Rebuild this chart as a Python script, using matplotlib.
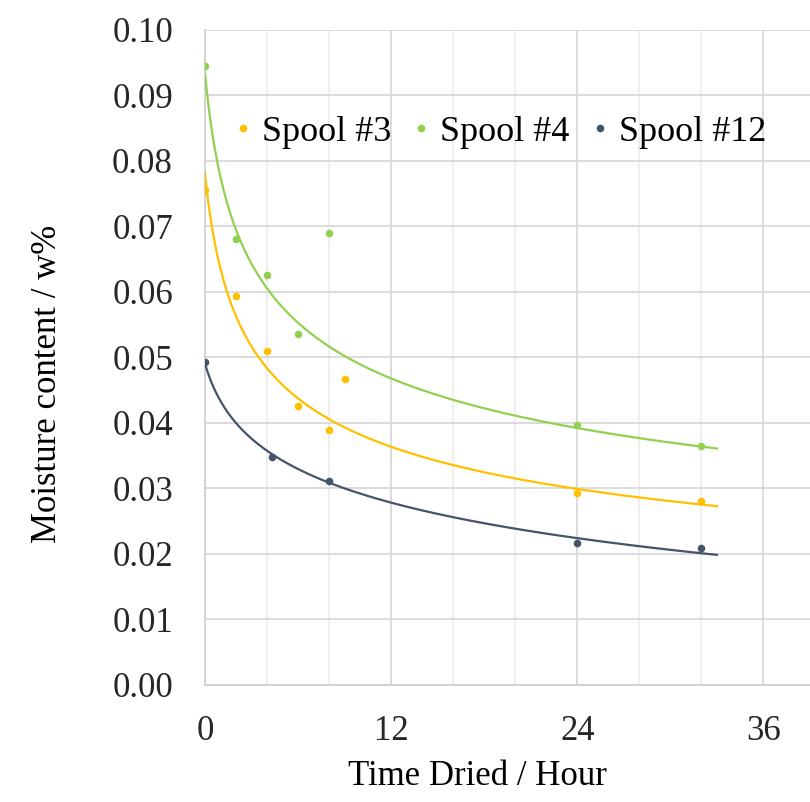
import numpy as np
import matplotlib.pyplot as plt
from matplotlib.lines import Line2D

plt.rcParams['font.family'] = ['Liberation Serif', 'DejaVu Serif']

# data (hours, moisture content)
hours_3 = [0, 2, 4, 6, 8, 9, 24, 32]
spool_3 = [0.0755, 0.0593, 0.0509, 0.0425, 0.0389, 0.0467, 0.0293, 0.0281]

hours_4 = [0, 2, 4, 6, 8, 24, 32]
spool_4 = [0.0945, 0.0680, 0.0625, 0.0535, 0.0690, 0.0396, 0.0364]

hours_12 = [0, 4.3, 8, 24, 32]
spool_12 = [0.0493, 0.0348, 0.0311, 0.0216, 0.0209]

names = ['Spool #3', 'Spool #4', 'Spool #12']
colors = ['#FFC000', '#92D050', '#44546A']

# trendline kind and hours left out of each fit
trend_kind = ['power', 'power', 'log']
trend_skip = [[9], [8], []]

series = [(hours_3, spool_3), (hours_4, spool_4), (hours_12, spool_12)]

fig = plt.figure(figsize=(8.1, 8.02), dpi=100)
ax = fig.add_axes([0.253, 0.146, 0.747, 0.817])

xs = np.linspace(0, 33, 300)
handles = []
for (x, y), c, n, kind, skip in zip(series, colors, names, trend_kind, trend_skip):
    x = np.asarray(x, dtype=float)
    y = np.asarray(y)
    keep = ~np.isin(x, skip)
    lx = np.log(x[keep] + 1)
    if kind == 'power':
        b, lna = np.polyfit(lx, np.log(y[keep]), 1)
        fit = np.exp(lna) * (xs + 1) ** b
    else:
        b, a = np.polyfit(lx, y[keep], 1)
        fit = a + b * np.log(xs + 1)
    ax.plot(xs, fit, color=c, lw=1.6, zorder=3)
    ax.scatter(x, y, s=30, color=c, zorder=4, linewidths=0)
    handles.append(Line2D([], [], ls='', marker='o', ms=5.5, color=c, mec='none', label=n))

ax.set_xlim(0, 39)
ax.set_ylim(0, 0.10)
ax.set_xticks([0, 12, 24, 36])
ax.set_xticks(np.arange(0, 40, 4), minor=True)
ax.set_yticks(np.arange(0, 0.1001, 0.01))
ax.set_yticklabels(['%.2f' % v for v in np.arange(0, 0.1001, 0.01)])

ax.grid(True, which='major', color='#D9D9D9', lw=1.3)
ax.grid(True, which='minor', axis='x', color='#EBEBEB', lw=1.1)
ax.set_axisbelow(True)
for s in ['top', 'right']:
    ax.spines[s].set_visible(False)
for s in ['left', 'bottom']:
    ax.spines[s].set_color('#D0D0D0')
    ax.spines[s].set_linewidth(1.3)
ax.tick_params(which='both', length=0, labelsize=25, colors='#262626')
ax.tick_params(axis='y', pad=23)
ax.tick_params(axis='x', pad=22)

ax.set_xlabel('Time Dried / Hour', fontsize=25)
ax.set_ylabel('Moisture content / w%', fontsize=25)
ax.xaxis.set_label_coords(0.45, -0.115)
ax.yaxis.set_label_coords(-0.233, 0.46)

ax.legend(handles=handles, loc='center', bbox_to_anchor=(0.483, 0.844), ncol=3,
          frameon=False, fontsize=26, handletextpad=0.13, columnspacing=0.43,
          handlelength=0.8)

fig.savefig('out.png', dpi=100)
